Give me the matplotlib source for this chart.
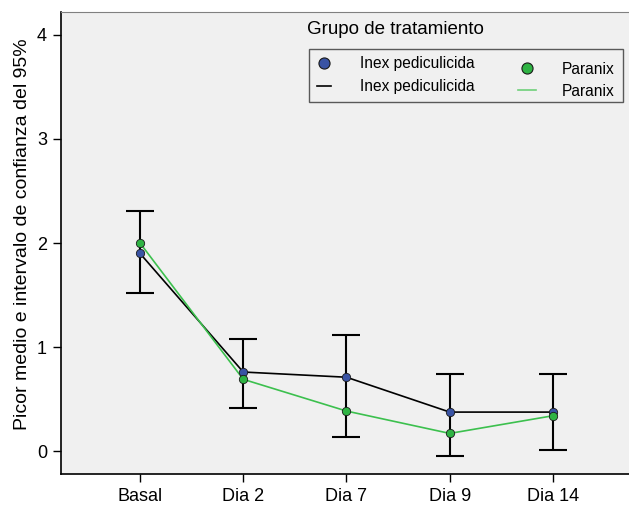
import matplotlib
matplotlib.use('Agg')
import matplotlib.pyplot as plt
from matplotlib.lines import Line2D

plt.rcParams['font.family'] = ['Liberation Sans', 'DejaVu Sans']

# data
dias = ['Basal', 'Dia 2', 'Dia 7', 'Dia 9', 'Dia 14']
inex = [1.90, 0.76, 0.71, 0.375, 0.375]
paranix = [2.00, 0.69, 0.385, 0.17, 0.34]
ci_low = [1.52, 0.41, 0.135, -0.05, 0.01]
ci_high = [2.31, 1.08, 1.12, 0.74, 0.74]

blue = '#3953a4'
green = '#2fb344'
bg = '#f0f0f0'

W, H = 629, 507
fig = plt.figure(figsize=(W/100, H/100), dpi=100)
ax = fig.add_axes([61/W, 33/H, 1 - 61/W, (474-12)/H])
ax.set_facecolor(bg)

def px(x, y):
    # pixel position in the picture -> axes fraction
    return (x - 61)/(W - 61), (474 - y)/(474 - 12)

x = list(range(len(dias)))
mid = [(l + h)/2 for l, h in zip(ci_low, ci_high)]
err = [[m - l for m, l in zip(mid, ci_low)], [h - m for h, m in zip(ci_high, mid)]]
ax.errorbar(x, mid, yerr=err, fmt='none', ecolor='black', elinewidth=1.5,
            capsize=10, capthick=1.5, zorder=2)

ax.plot(x, inex, color='black', lw=1.2, zorder=3)
ax.plot(x, paranix, color='#3cc04e', lw=1.2, zorder=3)
ax.plot(x, inex, 'o', ms=6, mfc=blue, mec='#1a1a1a', mew=0.6, zorder=4)
ax.plot(x, paranix, 'o', ms=6, mfc=green, mec='#1a1a1a', mew=0.6, zorder=4)

ax.set_xlim(-0.765, 4.736)
ax.set_ylim(-0.22, 4.22)
ax.set_xticks(x)
ax.set_xticklabels(dias, fontsize=13)
ax.set_yticks([0, 1, 2, 3, 4])
ax.tick_params(axis='both', labelsize=13, length=6, width=1, direction='out', pad=4)
ax.set_ylabel('Picor medio e intervalo de confianza del 95%', fontsize=14)
ax.yaxis.set_label_coords(*px(31, 234))

for s in ['left', 'bottom']:
    ax.spines[s].set_color('black')
    ax.spines[s].set_linewidth(1.2)
ax.spines['top'].set_color('#808080')
ax.spines['right'].set_visible(False)

# legend (title sits above the box, second column a bit lower as in the original)
ax.text(*px(307, 30), 'Grupo de tratamiento', transform=ax.transAxes,
        fontsize=13.5, va='center', ha='left')
h_inex = [Line2D([], [], ls='none', marker='o', ms=8, mfc=blue, mec='#1a1a1a', mew=0.8),
          Line2D([], [], color='black', lw=1.2)]
h_par = [Line2D([], [], ls='none', marker='o', ms=8, mfc=green, mec='#1a1a1a', mew=0.8),
         Line2D([], [], color='#6fd07a', lw=1.2)]
x0, y0 = px(309, 49)
x1, _ = px(623, 49)
leg = ax.legend(h_inex, ['Inex pediculicida', 'Inex pediculicida'], loc='upper left',
                fontsize=11.2, bbox_to_anchor=(x0, y0, x1 - x0, 0.001), mode='expand',
                frameon=True, fancybox=False, handlelength=0.9, handletextpad=1.86,
                borderaxespad=0, borderpad=0.5, labelspacing=0.52)
leg.get_frame().set_edgecolor('#333333')
leg.get_frame().set_facecolor(bg)
leg.get_frame().set_linewidth(1.0)
ax.add_artist(leg)
leg2 = ax.legend(h_par, ['Paranix', 'Paranix'], loc='upper left', fontsize=11.2,
                 bbox_to_anchor=px(510, 54), frameon=False, handlelength=1.2,
                 handletextpad=1.6, borderaxespad=0, borderpad=0.5, labelspacing=0.45)

fig.savefig('out.png', dpi=100)
